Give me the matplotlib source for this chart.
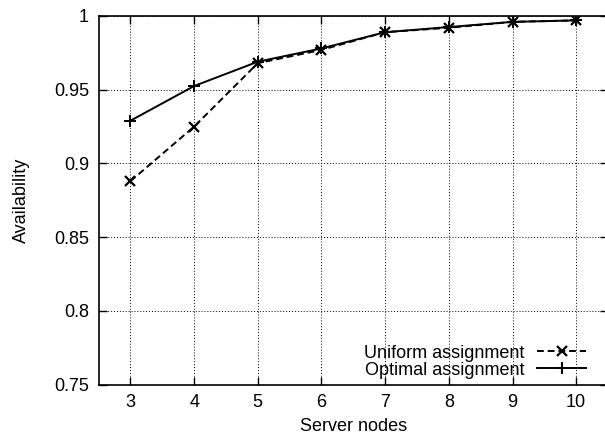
import matplotlib
matplotlib.use('Agg')
import matplotlib.pyplot as plt

plt.rcParams['font.family'] = ['Liberation Sans', 'DejaVu Sans']

nodes = [3, 4, 5, 6, 7, 8, 9, 10]
uniform = [0.888, 0.925, 0.968, 0.977, 0.989, 0.992, 0.996, 0.997]
optimal = [0.929, 0.9525, 0.969, 0.978, 0.989, 0.9925, 0.996, 0.997]

yticks = [0.75, 0.8, 0.85, 0.9, 0.95, 1]
ylabels = ['0.75', '0.8', '0.85', '0.9', '0.95', '1']

fig = plt.figure(figsize=(6.05, 4.4), dpi=100)
ax = fig.add_axes([0.163, 0.1257, 0.842, 0.838])

ax.plot(nodes, uniform, color='black', linestyle=(0, (3.5, 2)), linewidth=1.4,
        marker='x', markersize=7, markeredgewidth=1.6, label='Uniform assignment')
ax.plot(nodes, optimal, color='black', linestyle='-', linewidth=1.4,
        marker='+', markersize=8, markeredgewidth=1.4, label='Optimal assignment')

ax.set_xlim(2.5, 10.5)
ax.set_ylim(0.75, 1)
ax.set_xticks(nodes)
ax.set_yticks(yticks)
ax.set_yticklabels(ylabels)
ax.tick_params(direction='in', length=6, width=1, top=True, right=True,
               labelsize=13, pad=7)
ax.grid(True, color='black', linestyle=(0, (1, 2)), linewidth=0.7)
for s in ax.spines.values():
    s.set_linewidth(1.2)

ax.set_xlabel('Server nodes', fontsize=13, labelpad=5)
ax.set_ylabel('Availability', fontsize=13, labelpad=17)

ax.legend(loc='lower right', bbox_to_anchor=(0.982, -0.018), frameon=False,
          markerfirst=False, fontsize=13, handlelength=2.7, handletextpad=0.7,
          labelspacing=0.0, borderaxespad=0.3)

fig.savefig('out.png', dpi=100)
